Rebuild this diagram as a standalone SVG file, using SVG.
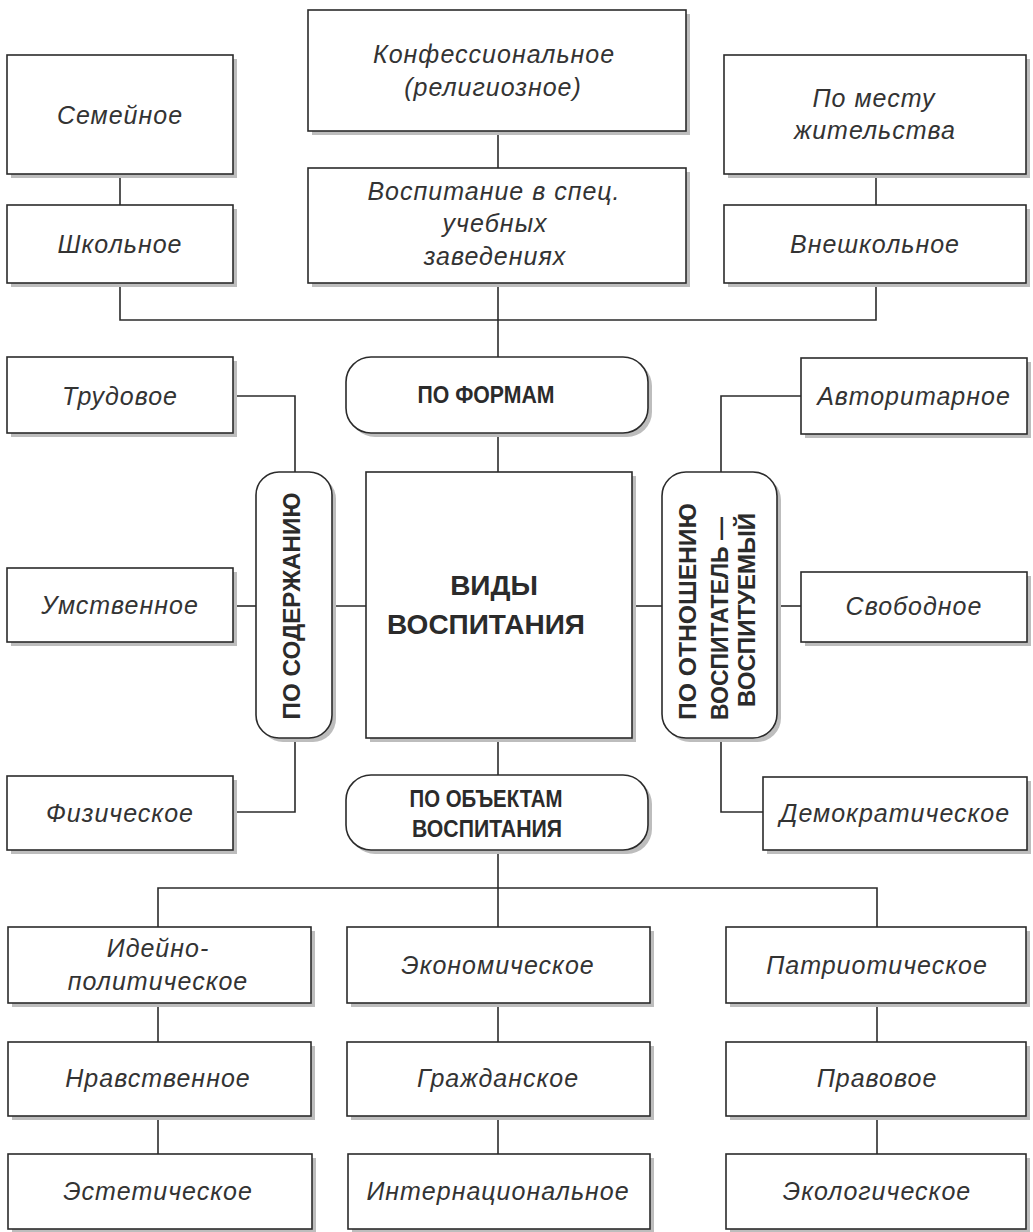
<svg xmlns="http://www.w3.org/2000/svg" width="1033" height="1232" viewBox="0 0 1033 1232">
<style>
.b{fill:#fff;stroke:#2b2b2b;stroke-width:1.6}
.s{fill:#bdbdbd}
.c{fill:none;stroke:#2b2b2b;stroke-width:1.6}
.t{font-family:"Liberation Sans",Arial,sans-serif;font-style:italic;font-size:25px;letter-spacing:1px;fill:#333;text-anchor:middle}
.h{font-family:"Liberation Sans",Arial,sans-serif;font-weight:bold;font-size:23px;fill:#2b2b2b;text-anchor:middle}
.v{font-family:"Liberation Sans",Arial,sans-serif;font-weight:bold;font-size:23px;fill:#2b2b2b}
.m{font-family:"Liberation Sans",Arial,sans-serif;font-weight:bold;font-size:28px;fill:#2b2b2b;text-anchor:middle}
</style>
<rect width="1033" height="1232" fill="#fff"/>
<g id="connectors">
<path class="c" d="M120 174V205"/>
<path class="c" d="M498 131V168"/>
<path class="c" d="M876 174V205"/>
<path class="c" d="M120 283V320H876V283"/>
<path class="c" d="M498 283V357"/>
<path class="c" d="M498 433V472"/>
<path class="c" d="M498 738V775"/>
<path class="c" d="M233 396H295V472"/>
<path class="c" d="M233 606H256"/>
<path class="c" d="M332 606H366"/>
<path class="c" d="M295 738V812H233"/>
<path class="c" d="M801 396H721V472"/>
<path class="c" d="M632 606H662"/>
<path class="c" d="M777 606H801"/>
<path class="c" d="M721 738V812H763"/>
<path class="c" d="M498 850V888"/>
<path class="c" d="M158 927V888H877V927"/>
<path class="c" d="M498 888V927"/>
<path class="c" d="M158 1003V1042"/>
<path class="c" d="M498 1003V1042"/>
<path class="c" d="M877 1003V1042"/>
<path class="c" d="M158 1116V1154"/>
<path class="c" d="M498 1116V1154"/>
<path class="c" d="M877 1116V1154"/>
</g>
<g id="n-semeynoe"><rect class="s" x="11" y="59" width="226" height="119"/><rect class="b" x="7" y="55" width="226" height="119"/><text class="t" x="120" y="124">Семейное</text></g>
<g id="n-shkolnoe"><rect class="s" x="11" y="209" width="226" height="78"/><rect class="b" x="7" y="205" width="226" height="78"/><text class="t" x="120" y="253">Школьное</text></g>
<g id="n-konf"><rect class="s" x="312" y="14" width="378" height="121"/><rect class="b" x="308" y="10" width="378" height="121"/><text class="t" x="494" y="63">Конфессиональное</text><text class="t" x="493" y="96">(религиозное)</text></g>
<g id="n-spec"><rect class="s" x="312" y="172" width="378" height="115"/><rect class="b" x="308" y="168" width="378" height="115"/><text class="t" x="494" y="200">Воспитание в спец.</text><text class="t" x="495" y="232">учебных</text><text class="t" x="495" y="265">заведениях</text></g>
<g id="n-mestu"><rect class="s" x="728" y="59" width="302" height="119"/><rect class="b" x="724" y="55" width="302" height="119"/><text class="t" x="874" y="107">По месту</text><text class="t" x="875" y="139">жительства</text></g>
<g id="n-vneshk"><rect class="s" x="728" y="209" width="302" height="78"/><rect class="b" x="724" y="205" width="302" height="78"/><text class="t" x="875" y="253">Внешкольное</text></g>
<g id="n-formam"><rect class="s" x="350" y="361" width="302" height="76" rx="25"/><rect class="b" x="346" y="357" width="302" height="76" rx="25"/><text class="h" x="486" y="403" textLength="137" lengthAdjust="spacingAndGlyphs">ПО ФОРМАМ</text></g>
<g id="n-trud"><rect class="s" x="11" y="361" width="226" height="76"/><rect class="b" x="7" y="357" width="226" height="76"/><text class="t" x="120" y="405">Трудовое</text></g>
<g id="n-umstv"><rect class="s" x="11" y="572" width="226" height="74"/><rect class="b" x="7" y="568" width="226" height="74"/><text class="t" x="120" y="614">Умственное</text></g>
<g id="n-fiz"><rect class="s" x="11" y="780" width="226" height="74"/><rect class="b" x="7" y="776" width="226" height="74"/><text class="t" x="120" y="822">Физическое</text></g>
<g id="n-soderzh"><rect class="s" x="260" y="476" width="76" height="266" rx="23"/><rect class="b" x="256" y="472" width="76" height="266" rx="23"/><text class="v" text-anchor="middle" transform="translate(300 606) rotate(-90)" textLength="227" lengthAdjust="spacingAndGlyphs">ПО СОДЕРЖАНИЮ</text></g>
<g id="n-center"><rect class="s" x="370" y="476" width="266" height="266"/><rect class="b" x="366" y="472" width="266" height="266"/><text class="m" x="494" y="595">ВИДЫ</text><text class="m" x="486" y="634">ВОСПИТАНИЯ</text></g>
<g id="n-otnosh"><rect class="s" x="666" y="476" width="115" height="266" rx="24"/><rect class="b" x="662" y="472" width="115" height="266" rx="24"/><text class="v" transform="translate(696 720) rotate(-90)" textLength="217" lengthAdjust="spacingAndGlyphs">ПО ОТНОШЕНИЮ</text><text class="v" transform="translate(728 720) rotate(-90)" textLength="203" lengthAdjust="spacingAndGlyphs">ВОСПИТАТЕЛЬ —</text><text class="v" transform="translate(755 707) rotate(-90)" textLength="194" lengthAdjust="spacingAndGlyphs">ВОСПИТУЕМЫЙ</text></g>
<g id="n-avtor"><rect class="s" x="805" y="362" width="226" height="76"/><rect class="b" x="801" y="358" width="226" height="76"/><text class="t" x="914" y="405">Авторитарное</text></g>
<g id="n-svobod"><rect class="s" x="805" y="576" width="226" height="70"/><rect class="b" x="801" y="572" width="226" height="70"/><text class="t" x="914" y="615">Свободное</text></g>
<g id="n-demokr"><rect class="s" x="767" y="781" width="264" height="73"/><rect class="b" x="763" y="777" width="264" height="73"/><text class="t" x="895" y="822">Демократическое</text></g>
<g id="n-obiekt"><rect class="s" x="350" y="779" width="302" height="75" rx="25"/><rect class="b" x="346" y="775" width="302" height="75" rx="25"/><text class="h" x="486" y="807" textLength="153" lengthAdjust="spacingAndGlyphs">ПО ОБЪЕКТАМ</text><text class="h" x="487" y="837" textLength="150" lengthAdjust="spacingAndGlyphs">ВОСПИТАНИЯ</text></g>
<g id="n-ideyno"><rect class="s" x="12" y="931" width="303" height="76"/><rect class="b" x="8" y="927" width="303" height="76"/><text class="t" x="158" y="957">Идейно-</text><text class="t" x="158" y="990">политическое</text></g>
<g id="n-ekonom"><rect class="s" x="351" y="931" width="303" height="76"/><rect class="b" x="347" y="927" width="303" height="76"/><text class="t" x="498" y="974">Экономическое</text></g>
<g id="n-patriot"><rect class="s" x="730" y="931" width="300" height="76"/><rect class="b" x="726" y="927" width="300" height="76"/><text class="t" x="877" y="974">Патриотическое</text></g>
<g id="n-nravstv"><rect class="s" x="12" y="1046" width="303" height="74"/><rect class="b" x="8" y="1042" width="303" height="74"/><text class="t" x="158" y="1087">Нравственное</text></g>
<g id="n-grazhd"><rect class="s" x="351" y="1046" width="303" height="74"/><rect class="b" x="347" y="1042" width="303" height="74"/><text class="t" x="498" y="1087">Гражданское</text></g>
<g id="n-pravov"><rect class="s" x="730" y="1046" width="300" height="74"/><rect class="b" x="726" y="1042" width="300" height="74"/><text class="t" x="877" y="1087">Правовое</text></g>
<g id="n-estet"><rect class="s" x="12" y="1158" width="304" height="75"/><rect class="b" x="8" y="1154" width="304" height="75"/><text class="t" x="158" y="1200">Эстетическое</text></g>
<g id="n-internac"><rect class="s" x="352" y="1158" width="302" height="75"/><rect class="b" x="348" y="1154" width="302" height="75"/><text class="t" x="498" y="1200">Интернациональное</text></g>
<g id="n-ekolog"><rect class="s" x="730" y="1158" width="300" height="75"/><rect class="b" x="726" y="1154" width="300" height="75"/><text class="t" x="877" y="1200">Экологическое</text></g>
</svg>
